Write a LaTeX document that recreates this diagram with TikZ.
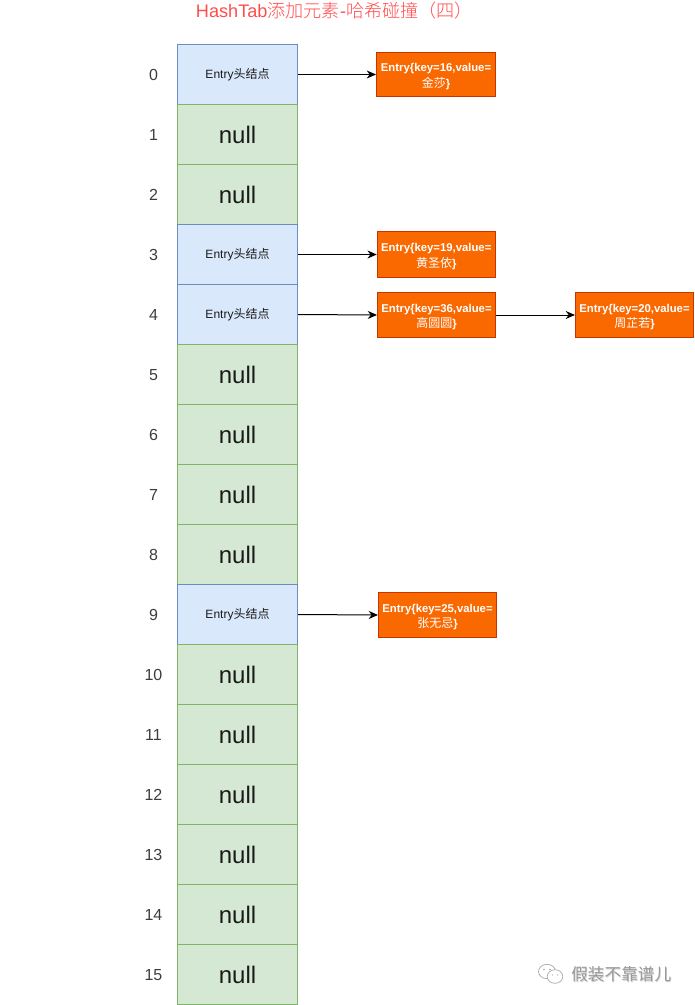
\documentclass[tikz,border=0pt]{standalone}
\usepackage{fontspec}
\setmainfont{Liberation Sans}
\newfontfamily\cjk{Noto Sans CJK SC}
\newfontfamily\cjklight{Noto Sans CJK SC Light}
\usetikzlibrary{arrows.meta}
\definecolor{headfill}{HTML}{DAE8FC}
\definecolor{headline}{HTML}{6C8EBF}
\definecolor{nullfill}{HTML}{D5E8D4}
\definecolor{nullline}{HTML}{82B366}
\definecolor{entryfill}{HTML}{FA6800}
\definecolor{entryline}{HTML}{C73500}
\definecolor{titlered}{HTML}{FF4D4D}
\definecolor{inktext}{HTML}{1A1A1A}
\tikzset{
  cellbox/.style={draw,line width=0.75pt,minimum width=90pt,minimum height=45pt,inner sep=0pt,anchor=center},
  headcell/.style={cellbox,fill=headfill,draw=headline,text=inktext,font=\fontsize{9}{11}\selectfont},
  nullcell/.style={cellbox,fill=nullfill,draw=nullline,text=inktext,font=\fontsize{18}{20}\selectfont},
  idxlabel/.style={text=inktext!85,font=\fontsize{12}{14}\selectfont,inner sep=0pt},
  entrybox/.style={draw=entryline,fill=entryfill,line width=0.75pt,minimum height=34pt,inner sep=0pt,
    text=white,align=center,font=\fontsize{8.5}{11.6}\selectfont\bfseries},
  link/.style={-{Stealth[length=7pt,width=6pt]},line width=0.75pt,black},
  wmark/.style={text=black!40,font=\cjk\fontsize{12.5}{15}\selectfont,inner sep=0pt}
}
\newcommand{\headtext}{\raisebox{-1.2pt}{Entry{\cjk 头结点}}}
\newcommand{\nulltext}{\raisebox{-0.75pt}{null}}
% first line of an entry label, with a taller strut that moves the two lines down
\newcommand{\entryhead}[1]{\rule{0pt}{9pt}Entry\{key=#1,value=}
\newcommand{\entryname}[1]{{\cjk\mdseries\fontsize{9}{11.6}\selectfont #1}\}}
\begin{document}
\begin{tikzpicture}[x=0.75pt,y=-0.75pt]
\useasboundingbox (0,0) rectangle (694,1005);
% page title
\node[text=titlered,font=\fontsize{13.6}{16}\selectfont,inner sep=0pt] (title) at (334.5,11)
  {HashTab{\cjklight 添加元素}-{\cjklight 哈希碰撞（四）}};
% bucket array with its index column
\foreach \i/\kind in {0/h,1/n,2/n,3/h,4/h,5/n,6/n,7/n,8/n,9/h,10/n,11/n,12/n,13/n,14/n,15/n}{
  \pgfmathsetmacro{\yy}{74.5+60*\i}
  \if\kind h
    \node[headcell] (c\i) at (237.5,\yy) {\headtext};
  \else
    \node[nullcell] (c\i) at (237.5,\yy) {\nulltext};
  \fi
  \node[idxlabel] (i\i) at (153.5,\yy+0.5) {\i};
}
% chained entries
\node[entrybox,minimum width=89.25pt,minimum height=33pt] (e16) at (436,74.5) {\entryhead{16}\\\entryname{金莎}};
\node[entrybox,minimum width=88.5pt] (e19) at (436.25,254.5) {\entryhead{19}\\\entryname{黄圣依}};
\node[entrybox,minimum width=88.5pt] (e36) at (436.5,315) {\entryhead{36}\\\entryname{高圆圆}};
\node[entrybox,minimum width=88.5pt] (e20) at (634.5,315) {\entryhead{20}\\\entryname{周芷若}};
\node[entrybox,minimum width=88.5pt] (e25) at (437.5,615) {\entryhead{25}\\\entryname{张无忌}};
% links from the buckets to their entries
\draw[link] (c0.east) -- (e16.west);
\draw[link] (c3.east) -- (e19.west);
\draw[link] (c4.east) -- (e36.west);
\draw[link] (e36.east) -- (e20.west);
\draw[link] (c9.east) -- (e25.west);
% account mark in the lower right corner
\begin{scope}[draw=black!35,line width=0.5pt,fill=white]
  \draw (547,971.5) ellipse [x radius=8.5,y radius=7.2];
  \fill[black!35] (544,969.5) circle (0.8) (550,969.5) circle (0.8);
  \filldraw (555,976.5) ellipse [x radius=7.8,y radius=6.8];
  \fill[black!35] (552.5,975) circle (0.7) (557.5,975) circle (0.7);
\end{scope}
\node[wmark,text=black!18] (markshadow) at (622,975) {假装不靠谱儿};
\node[wmark] (mark) at (621.3,974.4) {假装不靠谱儿};
\end{tikzpicture}
\end{document}
